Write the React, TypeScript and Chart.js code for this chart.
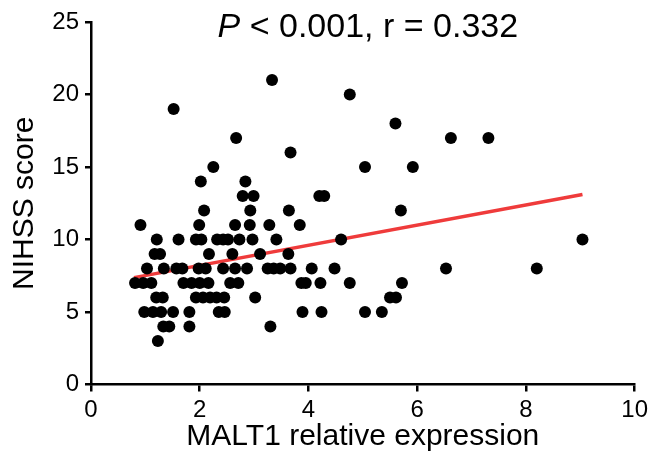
import React, { useEffect, useRef } from "react";
import { Chart, registerables } from "chart.js";

Chart.register(...registerables);

// MALT1 relative expression (x) and NIHSS score (y)
const malt1 = [
  3.33,
  4.76,
  1.52,
  5.6,
  2.67, 6.62, 7.31,
  3.67,
  2.25, 5.04, 5.92,
  2.02, 2.84,
  2.79, 2.99, 4.2, 4.29,
  2.08, 2.93, 3.64, 5.7,
  0.91, 1.99, 2.65, 2.92, 3.28, 3.84,
  1.21, 1.61, 1.93, 2.03, 2.32, 2.43, 2.52, 2.73, 2.97, 3.41, 4.6, 9.04,
  1.17, 1.27, 2.17, 2.6, 3.11, 3.63,
  1.03, 1.34, 1.57, 1.68, 1.98, 2.11, 2.43, 2.65, 2.87, 3.25, 3.36, 3.48, 3.67, 4.06, 4.48, 6.53, 8.2,
  0.81, 0.96, 1.11, 1.7, 1.85, 2.0, 2.16, 2.56, 2.71, 3.87, 3.95, 4.22, 4.76, 5.72,
  1.2, 1.32, 1.93, 2.06, 2.19, 2.31, 2.45, 3.02, 5.5, 5.61,
  0.98, 1.14, 1.29, 1.51, 1.81, 2.35, 2.46, 3.89, 4.24, 5.04, 5.35,
  1.33, 1.44, 1.81, 3.3,
  1.23,
];
const nihss = [
  21,
  20,
  19,
  18,
  17, 17, 17,
  16,
  15, 15, 15,
  14, 14,
  13, 13, 13, 13,
  12, 12, 12, 12,
  11, 11, 11, 11, 11, 11,
  10, 10, 10, 10, 10, 10, 10, 10, 10, 10, 10, 10,
  9, 9, 9, 9, 9, 9,
  8, 8, 8, 8, 8, 8, 8, 8, 8, 8, 8, 8, 8, 8, 8, 8, 8,
  7, 7, 7, 7, 7, 7, 7, 7, 7, 7, 7, 7, 7, 7,
  6, 6, 6, 6, 6, 6, 6, 6, 6, 6,
  5, 5, 5, 5, 5, 5, 5, 5, 5, 5, 5,
  4, 4, 4, 4,
  3,
];

// Regression line end points
const fitX = [0.79, 9.04];
const fitY = [7.37, 13.1];

const xTicks = [0, 2, 4, 6, 8, 10];
const yTicks = [0, 5, 10, 15, 20, 25];

const titleItalic = "P";
const titleRest = " < 0.001, r = 0.332";
const xTitle = "MALT1 relative expression";
const yTitle = "NIHSS score";

const FONT = '"Liberation Sans", Arial, Helvetica, sans-serif';

export default function App() {
  const ref = useRef<HTMLCanvasElement>(null);

  useEffect(() => {
    if (!ref.current) return;

    const titlePlugin = {
      id: "richTitle",
      afterDraw(chart: any) {
        const ctx = chart.ctx as CanvasRenderingContext2D;
        const area = chart.chartArea;
        ctx.save();
        ctx.fillStyle = "#000";
        ctx.textBaseline = "middle";
        ctx.textAlign = "left";
        const size = 34;
        ctx.font = `italic ${size}px ${FONT}`;
        const w1 = ctx.measureText(titleItalic).width;
        ctx.font = `${size}px ${FONT}`;
        const w2 = ctx.measureText(titleRest).width;
        const cx = (area.left + area.right) / 2 + 5;
        const cy = area.top + 6;
        const x0 = cx - (w1 + w2) / 2;
        ctx.font = `italic ${size}px ${FONT}`;
        ctx.fillText(titleItalic, x0, cy);
        ctx.font = `${size}px ${FONT}`;
        ctx.fillText(titleRest, x0 + w1, cy);
        ctx.restore();
      },
    };

    const chart = new Chart(ref.current, {
      type: "scatter",
      data: {
        datasets: [
          {
            type: "scatter",
            data: malt1.map((x, i) => ({ x, y: nihss[i] })),
            backgroundColor: "#000",
            borderColor: "#000",
            borderWidth: 0,
            pointRadius: 6,
            pointHoverRadius: 6,
            order: 0,
          },
          {
            type: "line",
            data: fitX.map((x, i) => ({ x, y: fitY[i] })),
            borderColor: "#ef3b3b",
            borderWidth: 3.5,
            pointRadius: 0,
            fill: false,
            order: 1,
          } as any,
        ],
      },
      options: {
        responsive: false,
        animation: false,
        layout: { padding: { left: 0, right: 17, top: 22, bottom: 0 } },
        plugins: {
          legend: { display: false },
          tooltip: { enabled: false },
          title: { display: false },
        },
        scales: {
          x: {
            type: "linear",
            min: 0,
            max: 10,
            afterBuildTicks: (s: any) => {
              s.ticks = xTicks.map((v) => ({ value: v }));
            },
            afterFit: (s: any) => {
              s.height = 81.5;
            },
            ticks: {
              color: "#000",
              font: { family: FONT, size: 24 },
              padding: 4,
              maxRotation: 0,
              autoSkip: false,
            },
            grid: {
              display: true,
              drawOnChartArea: false,
              drawTicks: true,
              tickLength: 7,
              color: "#000",
              lineWidth: 2.5,
            },
            border: { display: true, color: "#000", width: 2.5 },
            title: {
              display: true,
              text: xTitle,
              color: "#000",
              font: { family: FONT, size: 30 },
              padding: { top: 0, bottom: 11 },
            },
          },
          y: {
            type: "linear",
            min: 0,
            max: 25,
            afterBuildTicks: (s: any) => {
              s.ticks = yTicks.map((v) => ({ value: v }));
            },
            afterFit: (s: any) => {
              s.width = 91;
            },
            ticks: {
              color: "#000",
              font: { family: FONT, size: 24 },
              padding: 6,
              autoSkip: false,
            },
            grid: {
              display: true,
              drawOnChartArea: false,
              drawTicks: true,
              tickLength: 6,
              color: "#000",
              lineWidth: 2.5,
            },
            border: { display: true, color: "#000", width: 2.5 },
            title: {
              display: true,
              text: yTitle,
              color: "#000",
              font: { family: FONT, size: 30 },
              padding: { top: 7, bottom: 0 },
            },
          },
        },
      },
      plugins: [titlePlugin],
    });

    return () => chart.destroy();
  }, []);

  return (
    <div
      style={{
        position: "fixed",
        left: 0,
        top: 0,
        width: 652,
        height: 466,
        background: "#fff",
      }}
    >
      <canvas ref={ref} width={652} height={466} style={{ width: 652, height: 466 }} />
    </div>
  );
}
